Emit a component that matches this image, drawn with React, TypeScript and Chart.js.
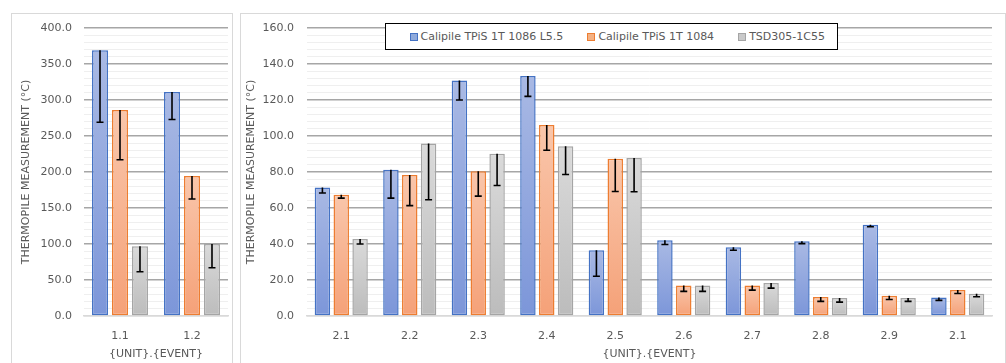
import React, { useEffect, useRef } from 'react';
import { Chart, registerables } from 'chart.js';

Chart.register(...registerables);

const SERIES_NAMES = ['Calipile TPiS 1T 1086 L5.5', 'Calipile TPiS 1T 1084', 'TSD305-1C55'];
const SERIES_TOP = ['#a9b9e4', '#f9c6ab', '#dadada'];
const SERIES_BOTTOM = ['#7c96d9', '#f5a178', '#bcbcbc'];
const SERIES_BORDER = ['#4472c4', '#ed7d31', '#a5a5a5'];
const LEGEND_FILL = ['#8faadc', '#f4b183', '#c9c9c9'];

const Y_TITLE = 'THERMOPILE MEASUREMENT (°C)';
const X_TITLE = '{UNIT}.{EVENT}';

const LEFT_LABELS = ['1.1', '1.2'];
const LEFT_BLUE = [369, 311];
const LEFT_BLUE_LOW = [269, 273];
const LEFT_ORANGE = [286, 194.5];
const LEFT_ORANGE_LOW = [217, 162.5];
const LEFT_GRAY = [97, 100];
const LEFT_GRAY_LOW = [61.5, 67];

const RIGHT_LABELS = ['2.1', '2.2', '2.3', '2.4', '2.5', '2.6', '2.7', '2.8', '2.9', '2.1'];
const RIGHT_BLUE = [71.4, 81.2, 130.8, 133.4, 36.5, 42.1, 38.2, 41.5, 50.7, 10.3];
const RIGHT_BLUE_LOW = [68.3, 65.5, 120, 122, 22.1, 39.7, 36.5, 40.2, 49.6, 8.7];
const RIGHT_ORANGE = [67.3, 78.4, 80.4, 106.1, 87.3, 17, 17, 10.5, 11.3, 14.4];
const RIGHT_ORANGE_LOW = [65.5, 61.3, 66.6, 92.1, 69.2, 13.7, 14.4, 8.1, 9.2, 12.5];
const RIGHT_GRAY = [42.8, 95.8, 90.2, 94.3, 87.8, 17, 18.3, 10, 10, 12.4];
const RIGHT_GRAY_LOW = [40, 64.6, 72.5, 78.6, 69, 13.7, 15.5, 7.7, 8.1, 10.7];

const FONT = 'DejaVu Sans';
const TEXT = '#595959';

const errorBarPlugin = {
  id: 'errorBars',
  afterDatasetsDraw(chart: any) {
    const ctx = chart.ctx;
    const y = chart.scales.y;
    ctx.save();
    ctx.strokeStyle = '#000000';
    ctx.lineWidth = 1.6;
    chart.data.datasets.forEach((ds: any, di: number) => {
      const meta = chart.getDatasetMeta(di);
      if (!ds.errLow) return;
      meta.data.forEach((bar: any, i: number) => {
        const yTop = y.getPixelForValue(ds.data[i]);
        const yLow = y.getPixelForValue(ds.errLow[i]);
        ctx.beginPath();
        ctx.moveTo(bar.x, yTop);
        ctx.lineTo(bar.x, yLow);
        ctx.moveTo(bar.x - 3.5, yLow);
        ctx.lineTo(bar.x + 3.5, yLow);
        ctx.stroke();
      });
    });
    ctx.restore();
  },
};

function gradient(top: string, bottom: string) {
  return (c: any) => {
    const chart = c.chart;
    const y = chart.scales && chart.scales.y;
    if (!y || c.type !== 'data' || typeof c.raw !== 'number') return bottom;
    const y0 = y.getPixelForValue(c.raw);
    const y1 = y.getPixelForValue(0);
    if (!isFinite(y0) || !isFinite(y1) || y0 === y1) return bottom;
    const g = chart.ctx.createLinearGradient(0, y0, 0, y1);
    g.addColorStop(0, top);
    g.addColorStop(1, bottom);
    return g;
  };
}

function makeConfig(
  labels: string[],
  values: number[][],
  lows: number[][],
  yMax: number,
  minorStep: number,
  majorStep: number,
  axisWidth: number,
  tickPad: number,
  titlePadTop: number,
  padRight: number,
  catPct: number,
  barPct: number
): any {
  return {
    type: 'bar',
    data: {
      labels,
      datasets: values.map((vals, s) => ({
        label: SERIES_NAMES[s],
        data: vals,
        errLow: lows[s],
        backgroundColor: gradient(SERIES_TOP[s], SERIES_BOTTOM[s]),
        borderColor: SERIES_BORDER[s],
        borderWidth: 1.5,
        borderSkipped: false,
        categoryPercentage: catPct,
        barPercentage: barPct,
      })),
    },
    options: {
      responsive: false,
      animation: false,
      devicePixelRatio: 1,
      layout: { padding: { left: 0, top: 14, right: padRight, bottom: 0 } },
      plugins: { legend: { display: false }, tooltip: { enabled: false }, title: { display: false } },
      scales: {
        x: {
          grid: { display: false },
          border: { display: true, color: '#d9d9d9', width: 1.5 },
          ticks: { color: TEXT, font: { family: FONT, size: 11 }, padding: 6, maxRotation: 0, autoSkip: false },
          title: { display: true, text: X_TITLE, color: TEXT, font: { family: FONT, size: 11 }, padding: { top: 0, bottom: 2 } },
          afterFit(scale: any) {
            scale.height = 47;
            scale.paddingLeft = 0;
            scale.paddingRight = 0;
          },
        },
        y: {
          min: 0,
          max: yMax,
          grid: {
            drawTicks: false,
            color: (c: any) => {
              const v = c.tick ? c.tick.value : 0;
              if (v === 0) return '#d9d9d9';
              return Math.abs(v % majorStep) < 1e-6 ? '#a6a6a6' : '#efefef';
            },
            lineWidth: (c: any) => {
              const v = c.tick ? c.tick.value : 0;
              return Math.abs(v % majorStep) < 1e-6 ? 1.5 : 1;
            },
          },
          border: { display: false },
          ticks: {
            stepSize: minorStep,
            maxTicksLimit: 1000,
            autoSkip: false,
            padding: tickPad,
            color: TEXT,
            font: { family: FONT, size: 11 },
            callback: (v: any) => (Math.abs(Number(v) % majorStep) < 1e-6 ? Number(v).toFixed(1) : ''),
          },
          title: { display: true, text: Y_TITLE, color: TEXT, font: { family: FONT, size: 11 }, padding: { top: titlePadTop, bottom: 0 } },
          afterFit(scale: any) {
            scale.width = axisWidth;
            scale.paddingTop = 0;
            scale.paddingBottom = 0;
          },
        },
      },
    },
    plugins: [errorBarPlugin],
  };
}

function ChartCanvas({ config, width, height }: { config: any; width: number; height: number }) {
  const ref = useRef<HTMLCanvasElement | null>(null);
  useEffect(() => {
    if (!ref.current) return;
    const chart = new Chart(ref.current, config);
    return () => chart.destroy();
  }, [config]);
  return <canvas ref={ref} width={width} height={height} style={{ width, height, display: 'block' }} />;
}

const leftConfig = makeConfig(
  LEFT_LABELS,
  [LEFT_BLUE, LEFT_ORANGE, LEFT_GRAY],
  [LEFT_BLUE_LOW, LEFT_ORANGE_LOW, LEFT_GRAY_LOW],
  400, 10, 50, 72, 12, 7.7, 4, 0.833, 0.8
);

const rightConfig = makeConfig(
  RIGHT_LABELS,
  [RIGHT_BLUE, RIGHT_ORANGE, RIGHT_GRAY],
  [RIGHT_BLUE_LOW, RIGHT_ORANGE_LOW, RIGHT_GRAY_LOW],
  160, 4, 20, 66, 13, 3.7, 13, 0.825, 0.82
);

export default function App() {
  return (
    <div style={{ position: 'absolute', left: 0, top: 0, width: 1006, height: 363, overflow: 'hidden', background: '#ffffff' }}>
      <div style={{ position: 'absolute', left: 11, top: 13, width: 222, height: 362, boxSizing: 'border-box', border: '1px solid #d9d9d9' }}>
        <ChartCanvas config={leftConfig} width={220} height={349} />
      </div>
      <div style={{ position: 'absolute', left: 240, top: 13, width: 766, height: 362, boxSizing: 'border-box', border: '1px solid #d9d9d9' }}>
        <ChartCanvas config={rightConfig} width={764} height={349} />
      </div>
      <div
        style={{
          position: 'absolute', left: 385, top: 23, width: 453, height: 27, boxSizing: 'border-box',
          border: '1.5px solid #000000', background: '#ffffff', display: 'flex', alignItems: 'center',
          paddingLeft: 23.5, fontFamily: FONT, fontSize: 11, color: TEXT, whiteSpace: 'nowrap',
        }}
      >
        {SERIES_NAMES.map((name, i) => (
          <div key={i} style={{ display: 'flex', alignItems: 'center', marginRight: 24 }}>
            <span style={{ display: 'inline-block', width: 8, height: 8, boxSizing: 'border-box', background: LEGEND_FILL[i], border: `1px solid ${SERIES_BORDER[i]}`, marginRight: 3 }} />
            <span>{name}</span>
          </div>
        ))}
      </div>
    </div>
  );
}
